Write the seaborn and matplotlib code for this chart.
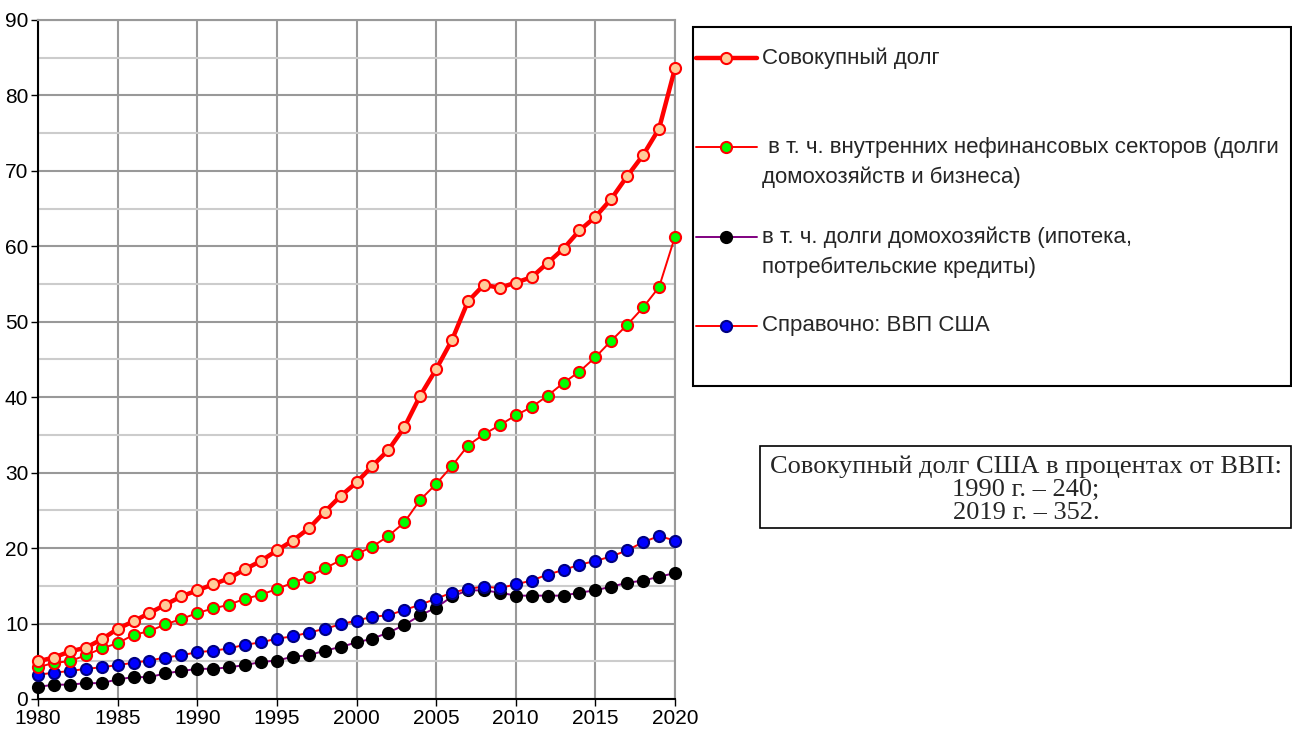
import numpy as np
import pandas as pd
import matplotlib
matplotlib.use("Agg")
import matplotlib.pyplot as plt
import seaborn as sns
from matplotlib.lines import Line2D
from matplotlib.patches import Rectangle
from matplotlib.ticker import MultipleLocator

# Данные
years = list(range(1980, 2021))

total_debt = [5.0, 5.5, 6.3, 6.8, 7.9, 9.3, 10.3, 11.4, 12.5, 13.6,
              14.4, 15.2, 16.0, 17.2, 18.3, 19.7, 21.0, 22.6, 24.8, 26.9,
              28.7, 30.9, 33.0, 36.0, 40.2, 43.7, 47.6, 52.7, 54.9, 54.5,
              55.2, 55.9, 57.8, 59.7, 62.1, 63.9, 66.3, 69.3, 72.1, 75.6,
              83.6]

nonfin_debt = [4.2, 4.8, 5.0, 5.8, 6.7, 7.4, 8.5, 9.0, 9.9, 10.6,
               11.4, 12.0, 12.5, 13.3, 13.8, 14.6, 15.4, 16.2, 17.3, 18.4,
               19.2, 20.2, 21.6, 23.4, 26.4, 28.5, 30.9, 33.6, 35.1, 36.3,
               37.6, 38.7, 40.2, 41.9, 43.4, 45.3, 47.5, 49.6, 51.9, 54.6,
               61.3]

household_debt = [1.6, 1.9, 1.9, 2.1, 2.1, 2.6, 2.9, 2.9, 3.4, 3.7,
                  4.0, 4.0, 4.2, 4.5, 4.9, 5.1, 5.6, 5.8, 6.4, 6.9,
                  7.5, 8.0, 8.8, 9.8, 11.1, 12.1, 13.6, 14.4, 14.4, 14.1,
                  13.7, 13.7, 13.7, 13.7, 14.1, 14.4, 14.9, 15.4, 15.7, 16.2,
                  16.7]

gdp = [3.2, 3.5, 3.7, 4.0, 4.2, 4.5, 4.8, 5.1, 5.5, 5.8,
       6.2, 6.4, 6.7, 7.2, 7.5, 8.0, 8.3, 8.8, 9.3, 9.9,
       10.4, 10.9, 11.1, 11.8, 12.5, 13.3, 14.1, 14.6, 14.9, 14.7,
       15.2, 15.7, 16.5, 17.1, 17.8, 18.3, 18.9, 19.7, 20.8, 21.6,
       21.0]

labels = [["Совокупный долг"],
          [" в т. ч. внутренних нефинансовых секторов (долги", "домохозяйств и бизнеса)"],
          ["в т. ч. долги домохозяйств (ипотека,", "потребительские кредиты)"],
          ["Справочно: ВВП США"]]

note = "Совокупный долг США в процентах от ВВП:\n1990 г. – 240;\n2019 г. – 352."

df = pd.DataFrame({"year": years, "total": total_debt, "nonfin": nonfin_debt,
                   "house": household_debt, "gdp": gdp})

sns.set_style("white")
plt.rcParams["font.family"] = ["Liberation Sans", "DejaVu Sans"]

W, H = 1292, 733
fig = plt.figure(figsize=(W / 100, H / 100), dpi=100)
ax = fig.add_axes([38 / W, 1 - 699 / H, (675 - 38) / W, (699 - 20) / H])

styles = [
    ("total", dict(color="red", linewidth=3.2, markerfacecolor="#FFCC99", markeredgecolor="red")),
    ("nonfin", dict(color="red", linewidth=1.4, markerfacecolor="#00FF00", markeredgecolor="red")),
    ("house", dict(color="#800080", linewidth=1.4, markerfacecolor="black", markeredgecolor="black")),
    ("gdp", dict(color="red", linewidth=1.4, markerfacecolor="#0000FF", markeredgecolor="#000080")),
]
order_z = {"total": 6, "nonfin": 5, "house": 3, "gdp": 4}
for col, st in styles:
    sns.lineplot(data=df, x="year", y=col, ax=ax, marker="o", markersize=8,
                 markeredgewidth=1.5, clip_on=False, zorder=order_z[col], **st)

ax.set_xlim(1980, 2020)
ax.set_ylim(0, 90)
ax.xaxis.set_major_locator(MultipleLocator(5))
ax.yaxis.set_major_locator(MultipleLocator(10))
ax.yaxis.set_minor_locator(MultipleLocator(5))
ax.grid(which="major", color="#999999", linewidth=1.5)
ax.grid(which="minor", axis="y", color="#cccccc", linewidth=1.5)
ax.set_axisbelow(True)
ax.set_xlabel("")
ax.set_ylabel("")
ax.tick_params(axis="both", labelsize=15, colors="black", pad=2)
ax.tick_params(axis="y", which="major", left=True, length=5, width=1)
ax.tick_params(axis="x", which="major", bottom=True, length=5, width=1)
for s in ["left", "bottom"]:
    ax.spines[s].set_color("black")
    ax.spines[s].set_linewidth(1.5)
for s in ["top", "right"]:
    ax.spines[s].set_color("#999999")
    ax.spines[s].set_linewidth(1.5)

# Легенда в рамке (рисуем вручную, чтобы повторить расположение строк)
fig.patches.append(Rectangle((693 / W, 1 - 386 / H), (W - 1 - 693) / W, (386 - 27) / H,
                             transform=fig.transFigure, fill=False, edgecolor="black", linewidth=1.5))
entry_y = [58, 147, 237, 326]
line_gap = 30
for (col, st), lab, y in zip(styles, labels, entry_y):
    fy = 1 - y / H
    fig.add_artist(Line2D([696 / W, 757 / W], [fy, fy], transform=fig.transFigure,
                          color=st["color"], linewidth=st["linewidth"]))
    fig.add_artist(Line2D([726 / W], [fy], transform=fig.transFigure, marker="o", markersize=8,
                          markeredgewidth=1.5, markerfacecolor=st["markerfacecolor"],
                          markeredgecolor=st["markeredgecolor"], linestyle="none"))
    for i, line in enumerate(lab):
        fig.text(762 / W, 1 - (y + i * line_gap) / H, line, ha="left", va="center",
                 fontsize=16)

# Текстовая вставка
fig.patches.append(Rectangle((760 / W, 1 - 528 / H), (W - 1 - 760) / W, (528 - 446) / H,
                             transform=fig.transFigure, fill=False, edgecolor="black", linewidth=1.2))
fig.text(1026 / W, 1 - 490 / H, note, ha="center", va="center", multialignment="center",
         fontsize=19, family=["Liberation Serif", "DejaVu Serif"], linespacing=1.06)

fig.savefig("out.png", dpi=100)
